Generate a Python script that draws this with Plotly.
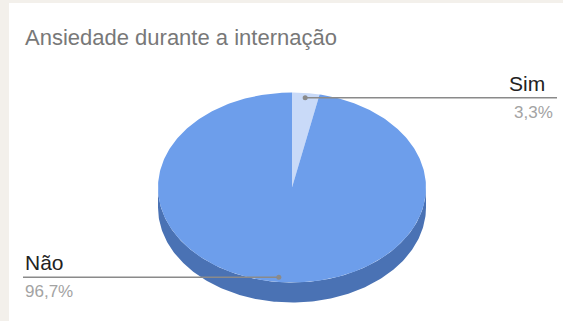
import numpy as np
import plotly.graph_objects as go

# Data
labels = ["Sim", "Não"]
values = [3.3, 96.7]
pct_text = ["3,3%", "96,7%"]
slice_colors = ["#c9daf8", "#6d9eeb"]
side_colors = ["#9fb3d6", "#4a72b4"]
title_text = "Ansiedade durante a internação"

W, H = 563, 321
# Pie geometry in page pixels (tilted disc)
cx, cy = 292.0, 187.5
rx, ry = 134.0, 95.0
depth = 20.0

fig = go.Figure()

def pt(theta, dy=0.0, k=1.0):
    # theta: clockwise angle from 12 o'clock, radians
    return cx + k * rx * np.sin(theta), cy - k * ry * np.cos(theta) + dy

total = sum(values)
bounds = np.concatenate([[0.0], np.cumsum(values)]) / total * 2 * np.pi

# Side wall: only the front half (pi/2 .. 3pi/2) is visible
for i in range(len(values)):
    a0, a1 = max(bounds[i], np.pi / 2), min(bounds[i + 1], 3 * np.pi / 2)
    if a1 <= a0:
        continue
    th = np.linspace(a0, a1, 200)
    xs_top, ys_top = pt(th)
    xs_bot, ys_bot = pt(th[::-1], depth)
    fig.add_trace(go.Scatter(
        x=np.concatenate([xs_top, xs_bot]), y=np.concatenate([ys_top, ys_bot]),
        mode="lines", fill="toself", fillcolor=side_colors[i],
        line=dict(width=0, color=side_colors[i]), hoverinfo="skip", showlegend=False))

# Top face wedges
for i in range(len(values)):
    th = np.linspace(bounds[i], bounds[i + 1], 400)
    xs, ys = pt(th)
    fig.add_trace(go.Scatter(
        x=np.concatenate([[cx], xs, [cx]]), y=np.concatenate([[cy], ys, [cy]]),
        mode="lines", fill="toself", fillcolor=slice_colors[i],
        line=dict(width=0, color=slice_colors[i]), name=labels[i],
        hoverinfo="name", showlegend=False))

# Leader lines and labels
label_end = {"right": 557, "left": 23}
for i in range(len(values)):
    mid = (bounds[i] + bounds[i + 1]) / 2
    px, py = pt(mid, k=0.95)
    side = "right" if np.sin(mid) >= 0 else "left"
    ex = label_end[side]
    fig.add_trace(go.Scatter(
        x=[px, ex], y=[py, py], mode="lines",
        line=dict(color="#8a8a8a", width=1.3), hoverinfo="skip", showlegend=False))
    fig.add_trace(go.Scatter(
        x=[px], y=[py], mode="markers",
        marker=dict(size=5, color="#8a8a8a"), hoverinfo="skip", showlegend=False))
    xa = "right" if side == "right" else "left"
    fig.add_annotation(x=(ex - 10) if side == "right" else ex, y=py - 1,
                       text=labels[i], showarrow=False,
                       xanchor=xa, yanchor="bottom", xref="x", yref="y",
                       font=dict(family="Liberation Sans, Arial", size=21, color="#222222"))
    fig.add_annotation(x=(ex - 2) if side == "right" else ex, y=py + 3,
                       text=pct_text[i], showarrow=False,
                       xanchor=xa, yanchor="top", xref="x", yref="y",
                       font=dict(family="Liberation Sans, Arial", size=17, color="#a3a3a3"))

# Title
fig.add_annotation(x=23, y=37, text=title_text, showarrow=False,
                   xanchor="left", yanchor="middle", xref="x", yref="y",
                   font=dict(family="Liberation Sans, Arial", size=22, color="#787878"))

# Card area on a warm page background
fig.add_shape(type="rect", x0=9, y0=3, x1=W, y1=H, xref="x", yref="y",
              fillcolor="white", line=dict(width=0), layer="below")

fig.update_layout(
    width=W, height=H, margin=dict(l=0, r=0, t=0, b=0),
    paper_bgcolor="#f3f0eb", plot_bgcolor="#f3f0eb",
    xaxis=dict(range=[0, W], visible=False, fixedrange=True),
    yaxis=dict(range=[H, 0], visible=False, fixedrange=True),
)

fig.write_html("out.html")
